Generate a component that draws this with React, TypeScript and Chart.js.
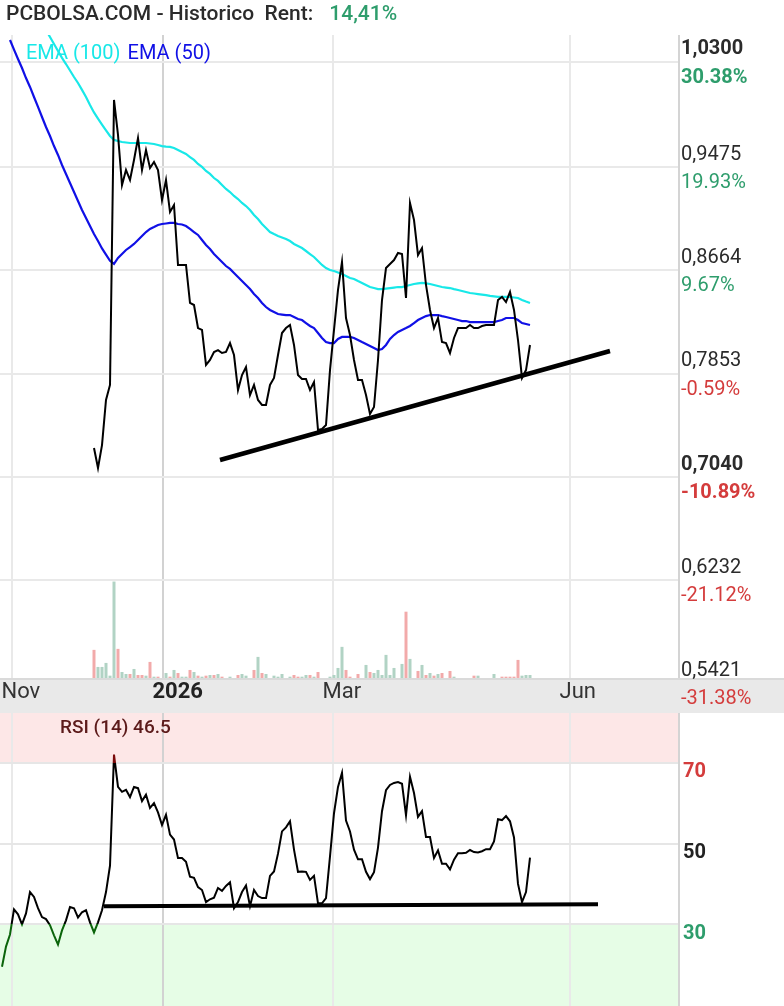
import React, { useEffect, useRef } from 'react';
import { Chart, registerables } from 'chart.js';

Chart.register(...registerables);

const FONT = 'Roboto, "Noto Sans", "DejaVu Sans", sans-serif';
const W = 784;
const H1 = 713;
const H2 = 293;
const PANEL_RIGHT = 678;
const GREEN = '#2e9d6c';
const RED = '#d43c3c';
const CYAN = '#18e8e8';
const BLUE = '#1010e6';

// x = trading-day index
const xTickPos = [2.5, 40.25, 82.75, 142];
const xTickLabels = ['Nov', '2026', 'Mar', 'Jun'];
const xTickBold = [false, true, false, false];

const rentText = '14,41%';

const priceStart = 23;
const price = [
  0.7269, 0.7112, 0.7292, 0.7646, 0.7764, 1.0002, 0.9727, 0.9334, 0.9452, 0.9373,
  0.9531, 0.9703, 0.9452, 0.9609, 0.9468, 0.9515, 0.9452, 0.9216, 0.9373, 0.9122,
  0.9177, 0.8706, 0.8706, 0.8706, 0.8408, 0.8392, 0.8211, 0.8196, 0.7921, 0.7960,
  0.8023, 0.8038, 0.8015, 0.8023, 0.8093, 0.7999, 0.7724, 0.7842, 0.7905, 0.7685,
  0.7764, 0.7646, 0.7607, 0.7607, 0.7764, 0.7819, 0.7999, 0.8172, 0.8211, 0.8235,
  0.8078, 0.7842, 0.7811, 0.7811, 0.7724, 0.7787, 0.7410, 0.7418, 0.7449, 0.7881,
  0.8196, 0.8510, 0.8730, 0.8290, 0.8156, 0.7960, 0.7803, 0.7803, 0.7685, 0.7536,
  0.7591, 0.7960, 0.8431, 0.8682, 0.8714, 0.8745, 0.8800, 0.8792, 0.8447, 0.9193,
  0.9059, 0.8784, 0.8839, 0.8549, 0.8353, 0.8211, 0.8290, 0.8101, 0.8093, 0.8015,
  0.8133, 0.8211, 0.8211, 0.8211, 0.8235, 0.8211, 0.8211, 0.8227, 0.8235, 0.8235,
  0.8235, 0.8431, 0.8455, 0.8415, 0.8494, 0.8353, 0.8117, 0.7819, 0.7881, 0.8078,
];

const ema50Start = 2;
const ema50 = [
  1.0473,
  1.0397, 1.0324, 1.0253, 1.0174, 1.0104, 1.0025, 0.9947, 0.9868, 0.9790, 0.9719,
  0.9640, 0.9570, 0.9491, 0.9421, 0.9350, 0.9279, 0.9209, 0.9138, 0.9075, 0.9012,
  0.8949, 0.8894, 0.8836, 0.8788, 0.8739, 0.8714, 0.8761, 0.8792, 0.8824, 0.8847,
  0.8871, 0.8902, 0.8934, 0.8965, 0.8989, 0.9004, 0.9020, 0.9028, 0.9032, 0.9036,
  0.9036, 0.9028, 0.9024, 0.9012, 0.8989, 0.8965, 0.8942, 0.8902, 0.8863, 0.8832,
  0.8792, 0.8761, 0.8730, 0.8698, 0.8675, 0.8643, 0.8612, 0.8580, 0.8549, 0.8517,
  0.8478, 0.8447, 0.8408, 0.8376, 0.8353, 0.8337, 0.8321, 0.8317, 0.8313, 0.8313,
  0.8298, 0.8282, 0.8274, 0.8250, 0.8227, 0.8211, 0.8172, 0.8133, 0.8101, 0.8093,
  0.8093, 0.8125, 0.8141, 0.8141, 0.8141, 0.8133, 0.8117, 0.8101, 0.8086, 0.8070,
  0.8054, 0.8038, 0.8046, 0.8078, 0.8125, 0.8156, 0.8180, 0.8196, 0.8211, 0.8227,
  0.8250, 0.8274, 0.8290, 0.8305, 0.8313, 0.8313, 0.8313, 0.8305, 0.8298, 0.8290,
  0.8282, 0.8274, 0.8266, 0.8266, 0.8258, 0.8258, 0.8258, 0.8258, 0.8258, 0.8258,
  0.8258, 0.8266, 0.8274, 0.8290, 0.8290, 0.8290, 0.8274, 0.8250, 0.8243, 0.8235,
];

const ema100Start = 10;
const ema100 = [
  1.0606, 1.0551, 1.0496, 1.0441, 1.0386, 1.0332, 1.0284, 1.0233, 1.0182, 1.0135,
  1.0081, 1.0025, 0.9962, 0.9904, 0.9856, 0.9809, 0.9763, 0.9719, 0.9688, 0.9680,
  0.9672, 0.9668, 0.9664, 0.9664, 0.9664, 0.9664, 0.9664, 0.9660, 0.9656, 0.9648,
  0.9640, 0.9636, 0.9633, 0.9625, 0.9609, 0.9593, 0.9578, 0.9554, 0.9531, 0.9499,
  0.9476, 0.9444, 0.9421, 0.9389, 0.9366, 0.9334, 0.9303, 0.9279, 0.9248, 0.9224,
  0.9193, 0.9169, 0.9138, 0.9099, 0.9067, 0.9028, 0.8997, 0.8965, 0.8949, 0.8934,
  0.8922, 0.8910, 0.8894, 0.8871, 0.8855, 0.8839, 0.8816, 0.8792, 0.8769, 0.8737,
  0.8706, 0.8682, 0.8667, 0.8659, 0.8647, 0.8635, 0.8620, 0.8604, 0.8596, 0.8580,
  0.8565, 0.8549, 0.8533, 0.8525, 0.8517, 0.8517, 0.8521, 0.8525, 0.8529, 0.8533,
  0.8533, 0.8541, 0.8549, 0.8557, 0.8561, 0.8565, 0.8561, 0.8557, 0.8549, 0.8541,
  0.8533, 0.8529, 0.8525, 0.8517, 0.8510, 0.8502, 0.8494, 0.8486, 0.8482, 0.8478,
  0.8474, 0.8470, 0.8463, 0.8459, 0.8455, 0.8455, 0.8455, 0.8455, 0.8451, 0.8447,
  0.8431, 0.8419, 0.8408,
];

// volume (thousands), same start as price
const volume = [
  700, 275, 275, 375, 58, 2400, 725, 150, 100, 100,
  225, 75, 75, 58, 400, 33, 33, null, 125, 33,
  200, 125, 33, 33, 200, 150, 58, 33, 58, 75,
  75, 100, 33, null, 33, null, 75, 100, 58, null,
  200, 525, 125, 100, null, 58, 33, 100, null, 33,
  75, 33, 33, 75, 75, 33, 150, null, null, 33,
  75, 250, 775, 200, 33, null, 100, null, 325, 150,
  125, 200, 75, 575, 75, 250, null, 350, 1650, 475,
  null, 175, 325, 75, 125, 58, 100, 125, null, 175,
  33, null, null, null, null, 58, 58, null, null, null,
  100, null, 33, 33, 33, 33, 450, 58, 75, 75,
];
const volumeUp = [
  0, 1, 1, 1, 1, 1, 0, 1, 1, 0,
  1, 0, 0, 1, 0, 1, 0, 1, 1, 0,
  1, 0, 1, 1, 0, 1, 0, 1, 0, 1,
  0, 1, 0, 1, 1, 1, 0, 1, 1, 1,
  0, 1, 0, 1, 1, 1, 1, 1, 1, 1,
  0, 0, 1, 1, 0, 1, 0, 1, 1, 1,
  1, 1, 1, 0, 0, 1, 0, 1, 1, 0,
  1, 1, 1, 1, 1, 1, 1, 1, 0, 1,
  1, 0, 1, 0, 1, 0, 1, 0, 1, 0,
  1, 1, 1, 1, 1, 0, 1, 1, 1, 1,
  1, 1, 0, 0, 0, 0, 0, 1, 1, 1,
];

const rsi = [
  19.5, 24.5, 27.5, 33.7, 32.5, 30, 32.7, 38, 36.8, 34,
  31.8, 31.3, 29.8, 27.3, 25, 28.5, 31, 34.3, 34, 31.7,
  33, 33.5, 30.5, 28, 30.5, 33.5, 38, 44.5, 72, 64,
  62.8, 63.3, 61.5, 64, 63.7, 60.5, 62.1, 58.8, 60, 57.7,
  54.6, 57.1, 52.2, 51, 46.4, 46.4, 45.5, 41.8, 41.5, 39.2,
  38.5, 35.5, 36.2, 36.6, 39, 38.3, 39.5, 40.4, 34, 35.5,
  38, 39.6, 34.5, 38.5, 37, 36.5, 36.5, 42, 43.1, 47.5,
  53, 54, 55.5, 48.5, 43, 43.1, 43, 41, 42, 35.2,
  35.2, 36.5, 46.8, 57.5, 64, 67.5, 55.7, 53, 48.5, 46.1,
  46.1, 43, 41.2, 42.9, 49, 58, 63.2, 64.5, 65, 65.2,
  64.8, 57, 66.5, 62.5, 56.6, 58, 51.6, 51.6, 46.4, 48.3,
  45, 45, 43.6, 46, 47.6, 47.6, 47.7, 48.4, 47.9, 47.8,
  48.1, 48.6, 48.6, 50.5, 56, 55.8, 56.8, 55.5, 51.5, 40,
  35.5, 38, 46.5,
];

const priceTicks = [1.03, 0.9475, 0.8664, 0.7853, 0.704, 0.6232, 0.5421];
const pctTicks = [30.38, 19.93, 9.67, -0.59, -10.89, -21.12, -31.38];
const boldPriceTicks = [1.03, 0.704];
const rsiTicks = [70, 50, 30];
const rsiTickColors = [RED, '#222222', GREEN];

const trendX = [54.5, 152];
const trendY = [0.7175, 0.8031];
const rsiSupportX = [25.5, 149];
const rsiSupportY = [34.5, 35.0];

const X_MIN = -0.5;
const X_MAX = 169;
const P_MIN = 0.5463;
const P_MAX = 1.0512;
const R_MIN = 9.8;
const R_MAX = 82.3;
const VOL_MAX = 16000;

function pts(start: number, arr: (number | null)[]) {
  return arr.map((v, k) => ({ x: start + k, y: v }));
}

function xGridColor(ctx: any) {
  const v = ctx.tick ? ctx.tick.value : null;
  return v === xTickPos[1] ? '#d2d2d2' : '#e9e9e9';
}

const xScale = {
  type: 'linear',
  min: X_MIN,
  max: X_MAX,
  offset: false,
  display: true,
  ticks: { display: false },
  border: { display: false },
  grid: { drawTicks: false, lineWidth: 2, color: xGridColor, offset: false },
  afterBuildTicks: (s: any) => {
    s.ticks = xTickPos.map((v) => ({ value: v }));
  },
};

const pricePanelPlugin = {
  id: 'pricePanel',
  afterDraw(chart: any) {
    const { ctx, chartArea, scales } = chart;
    ctx.save();
    ctx.fillStyle = '#d4d4d4';
    ctx.fillRect(PANEL_RIGHT, chartArea.top, 2, chartArea.bottom - chartArea.top);

    ctx.textBaseline = 'middle';
    ctx.textAlign = 'left';
    ctx.font = `500 21px ${FONT}`;
    ctx.fillStyle = '#2b2b2b';
    const t = 'PCBOLSA.COM - Historico  Rent:';
    ctx.fillText(t, 6, 15);
    const tw = ctx.measureText(t).width;
    ctx.fillStyle = GREEN;
    ctx.fillText(rentText, 6 + tw + 16, 15);

    ctx.font = `400 20px ${FONT}`;
    ctx.fillStyle = CYAN;
    ctx.fillText('EMA (100)', 26, 54);
    const w1 = ctx.measureText('EMA (100)').width;
    ctx.fillStyle = BLUE;
    ctx.fillText('EMA (50)', 26 + w1 + 7, 54);

    // date band
    ctx.fillStyle = '#e9e9e9';
    ctx.fillRect(0, chartArea.bottom, W, H1 - chartArea.bottom);
    ctx.fillStyle = '#dadada';
    ctx.fillRect(0, chartArea.bottom, W, 2);

    xTickPos.forEach((v, k) => {
      const px = scales.x.getPixelForValue(v);
      ctx.font = `${xTickBold[k] ? 700 : 400} 22px ${FONT}`;
      ctx.fillStyle = xTickBold[k] ? '#222222' : '#333333';
      ctx.fillText(xTickLabels[k], px - 10.5, 692);
    });

    priceTicks.forEach((v, k) => {
      const y = scales.y.getPixelForValue(v);
      const bold = boldPriceTicks.includes(v);
      ctx.font = `${bold ? 700 : 400} 20px ${FONT}`;
      ctx.fillStyle = '#2b2b2b';
      ctx.fillText(v.toFixed(4).replace('.', ','), 681, y - 12.5);
      const p = pctTicks[k];
      ctx.fillStyle = p >= 0 ? GREEN : RED;
      ctx.fillText(`${p.toFixed(2)}%`, 681, y + 16);
    });
    ctx.restore();
  },
};

const rsiPanelPlugin = {
  id: 'rsiPanel',
  beforeDraw(chart: any) {
    const { ctx, chartArea, scales } = chart;
    const y70 = scales.y.getPixelForValue(70);
    const y30 = scales.y.getPixelForValue(30);
    ctx.save();
    ctx.fillStyle = '#fde7e7';
    ctx.fillRect(chartArea.left, chartArea.top, chartArea.right - chartArea.left, y70 - chartArea.top);
    ctx.fillStyle = '#e6fde6';
    ctx.fillRect(chartArea.left, y30, chartArea.right - chartArea.left, chartArea.bottom - y30);
    ctx.restore();
  },
  afterDraw(chart: any) {
    const { ctx, scales } = chart;
    ctx.save();
    ctx.fillStyle = '#d4d4d4';
    ctx.fillRect(PANEL_RIGHT, 0, 2, H2);
    ctx.textBaseline = 'middle';
    ctx.textAlign = 'left';
    ctx.font = `500 19px ${FONT}`;
    ctx.fillStyle = '#5c1a1a';
    ctx.fillText(`RSI (14) ${rsi[rsi.length - 1].toFixed(1)}`, 60, 15);
    rsiTicks.forEach((v, k) => {
      const y = scales.y.getPixelForValue(v);
      ctx.font = `700 20px ${FONT}`;
      ctx.fillStyle = rsiTickColors[k];
      ctx.fillText(String(v), 683, y + 9.5);
    });
    ctx.restore();
  },
};

function rsiColor(c: any) {
  const chart = c.chart;
  const { chartArea, scales } = chart;
  if (!chartArea || !scales || !scales.y) return '#000000';
  const top = chartArea.top;
  const bottom = chartArea.bottom;
  const g = chart.ctx.createLinearGradient(0, top, 0, bottom);
  const f70 = (scales.y.getPixelForValue(70) - top) / (bottom - top);
  const f30 = (scales.y.getPixelForValue(30) - top) / (bottom - top);
  g.addColorStop(0, '#7a0a0a');
  g.addColorStop(f70, '#7a0a0a');
  g.addColorStop(f70, '#000000');
  g.addColorStop(f30, '#000000');
  g.addColorStop(f30, '#0a640a');
  g.addColorStop(1, '#0a640a');
  return g;
}

export default function App() {
  const c1 = useRef<HTMLCanvasElement | null>(null);
  const c2 = useRef<HTMLCanvasElement | null>(null);

  useEffect(() => {
    const priceChart = new Chart(c1.current as HTMLCanvasElement, {
      type: 'line',
      data: {
        datasets: [
          {
            type: 'bar',
            data: pts(priceStart, volume),
            yAxisID: 'yv',
            backgroundColor: volumeUp.map((u) => (u ? '#b1d3c4' : '#f2aaaa')),
            barPercentage: 0.75,
            categoryPercentage: 1,
            order: 10,
          } as any,
          {
            data: pts(ema100Start, ema100),
            borderColor: CYAN,
            borderWidth: 2.2,
            pointRadius: 0,
            order: 6,
          },
          {
            data: pts(ema50Start, ema50),
            borderColor: BLUE,
            borderWidth: 2.2,
            pointRadius: 0,
            order: 5,
          },
          {
            data: pts(priceStart, price),
            borderColor: '#000000',
            borderWidth: 2,
            pointRadius: 0,
            order: 3,
          },
          {
            data: trendX.map((x, k) => ({ x, y: trendY[k] })),
            borderColor: '#000000',
            borderWidth: 4.5,
            pointRadius: 0,
            order: 1,
          },
        ],
      },
      options: {
        animation: false,
        responsive: false,
        devicePixelRatio: 1,
        events: [],
        layout: { padding: { left: 0, right: W - PANEL_RIGHT, top: 35, bottom: 35 } },
        plugins: { legend: { display: false }, tooltip: { enabled: false }, title: { display: false } },
        scales: {
          x: xScale as any,
          y: {
            type: 'linear',
            min: P_MIN,
            max: P_MAX,
            display: true,
            ticks: { display: false },
            border: { display: false },
            grid: { drawTicks: false, lineWidth: 2, color: '#e9e9e9' },
            afterBuildTicks: (s: any) => {
              s.ticks = priceTicks.filter((v) => v >= P_MIN && v <= P_MAX).map((v) => ({ value: v }));
            },
          },
          yv: { type: 'linear', min: 0, max: VOL_MAX, display: false },
        },
      },
      plugins: [pricePanelPlugin],
    });

    const rsiChart = new Chart(c2.current as HTMLCanvasElement, {
      type: 'line',
      data: {
        datasets: [
          {
            data: pts(0, rsi),
            borderColor: rsiColor as any,
            borderWidth: 2,
            pointRadius: 0,
            order: 2,
          },
          {
            data: rsiSupportX.map((x, k) => ({ x, y: rsiSupportY[k] })),
            borderColor: '#000000',
            borderWidth: 4,
            pointRadius: 0,
            order: 1,
          },
        ],
      },
      options: {
        animation: false,
        responsive: false,
        devicePixelRatio: 1,
        events: [],
        layout: { padding: { left: 0, right: W - PANEL_RIGHT, top: 0, bottom: 0 } },
        plugins: { legend: { display: false }, tooltip: { enabled: false }, title: { display: false } },
        scales: {
          x: xScale as any,
          y: {
            type: 'linear',
            min: R_MIN,
            max: R_MAX,
            display: true,
            ticks: { display: false },
            border: { display: false },
            grid: { drawTicks: false, lineWidth: 2, color: '#e6e6e6' },
            afterBuildTicks: (s: any) => {
              s.ticks = rsiTicks.map((v) => ({ value: v }));
            },
          },
        },
      },
      plugins: [rsiPanelPlugin],
    });

    return () => {
      priceChart.destroy();
      rsiChart.destroy();
    };
  }, []);

  return (
    <div style={{ position: 'absolute', left: 0, top: 0, width: W, height: H1 + H2, background: '#ffffff' }}>
      <canvas ref={c1} width={W} height={H1} style={{ position: 'absolute', left: 0, top: 0 }} />
      <canvas ref={c2} width={W} height={H2} style={{ position: 'absolute', left: 0, top: H1 }} />
    </div>
  );
}
